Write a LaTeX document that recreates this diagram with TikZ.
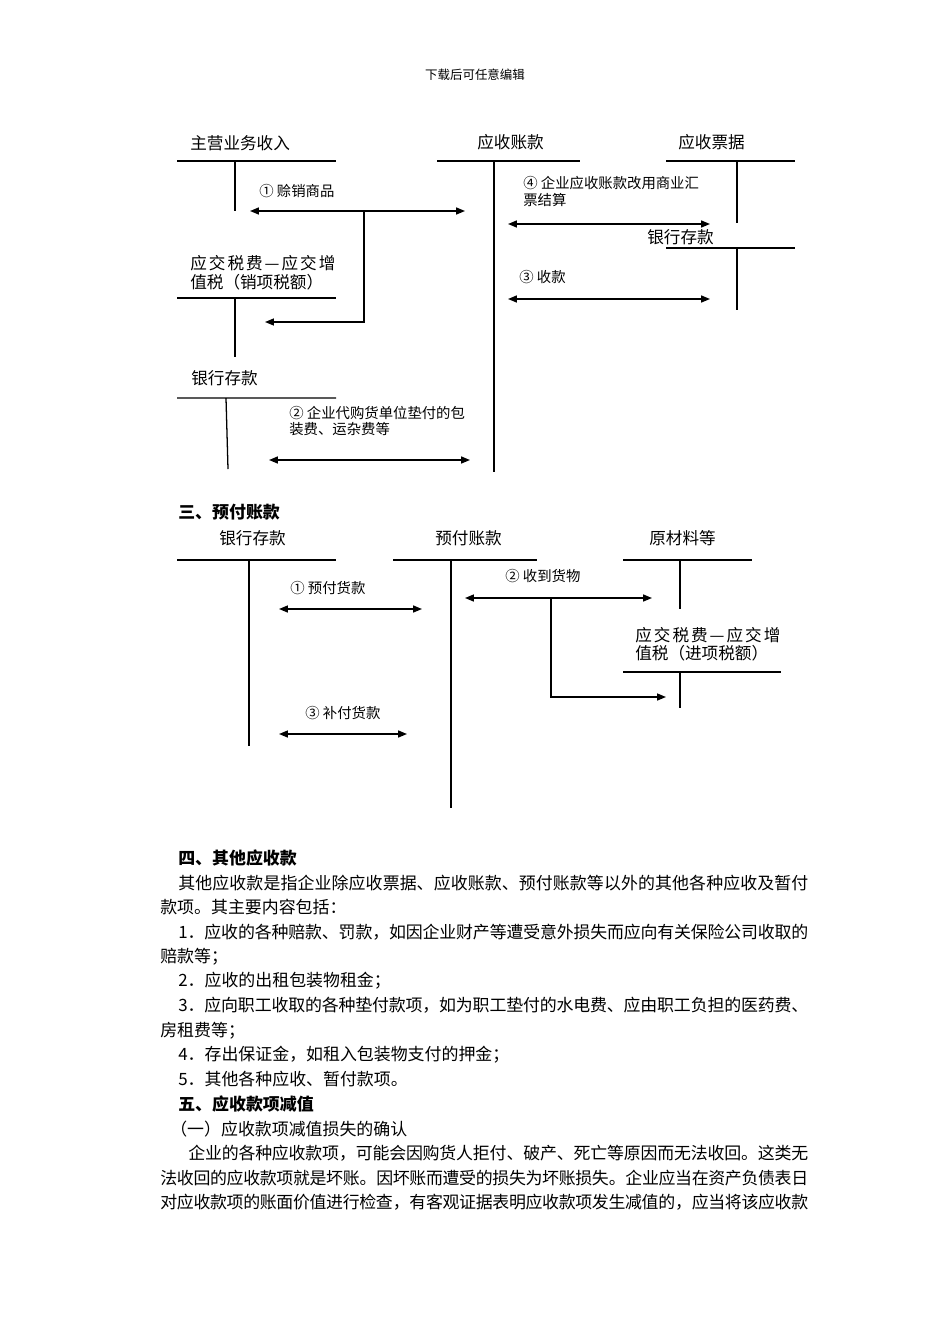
\documentclass[tikz,border=0pt]{standalone}
\usepackage{fontspec}
\setmainfont{Noto Sans CJK SC}
\usetikzlibrary{arrows.meta}
\XeTeXlinebreaklocale "zh"
\XeTeXlinebreakskip=0pt plus 2pt minus 0.5pt
\newlength\pxu
\setlength\pxu{0.6263pt}
\newcommand\acctfont{\fontsize{10.4pt}{11.6pt}\selectfont}
\newcommand\memofont{\fontsize{9pt}{10.4pt}\selectfont}
\newcommand\bodyfont{\fontsize{10.6pt}{14pt}\selectfont}
\newcommand\tsp{\hspace{1.25pt}}
\begin{document}
\begin{tikzpicture}[x=\pxu, y=-\pxu]

\tikzset{
  acct/.style={anchor=west, inner sep=0pt, align=left, font=\acctfont},
  memo/.style={anchor=west, inner sep=0pt, align=left, font=\memofont},
  tline/.style={line width=0.8pt},
  flow/.style={line width=0.9pt,
    {Triangle[length=5.6pt,width=4.4pt]}-{Triangle[length=5.6pt,width=4.4pt]}},
  branch/.style={line width=0.8pt, -{Triangle[length=5.6pt,width=4.4pt]}},
  body/.style={anchor=west, inner sep=0pt, font=\bodyfont},
  justline/.style={body, text width=#1, align=justify,
    execute at begin node={\parfillskip=0pt\relax}},
  head/.style={body, font=\bodyfont\bfseries}
}

\fill[white] (0,0) rectangle (950,1344);
\useasboundingbox (0,0) rectangle (950,1344);

\node[inner sep=0pt, font=\fontsize{7.8pt}{9pt}\selectfont] (top) at (475,75) {下载后可任意编辑};

% receivables
\node[acct] (sales) at (190,143) {主营业务收入};
\node[acct] (ar) at (477,142) {应收账款};
\node[acct] (nr) at (678,142) {应收票据};
\node[acct] (vatout) at (190,272.5) {应\tsp 交\tsp 税\tsp 费\tsp —\tsp 应\tsp 交\tsp 增\\值税（销项税额）};
\node[acct] (bankl) at (191,378) {银行存款};
\node[acct] (bankr) at (647,237) {银行存款};

\draw[tline] (177,161) -- (336,161) (235,161) -- (235,211);
\draw[tline] (437,161) -- (580,161) (494,161) -- (494,472);
\draw[tline] (666,161) -- (795,161) (737,161) -- (737,223);
\draw[tline] (177,298) -- (336,298) (235,298) -- (235,357);
\draw[tline] (177,398) -- (336,398) (226,398) -- (228,469);
\draw[tline] (666,248) -- (795,248) (737,248) -- (737,310);

\node[memo] (m1) at (259,191) {① 赊销商品};
\node[memo] (m4) at (523,191.5) {④ 企业应收账款改用商业汇\\票结算};
\node[memo] (m3) at (519,277) {③ 收款};
\node[memo] (m2) at (289,421) {② 企业代购货单位垫付的包\\装费、运杂费等};

\coordinate (a1l) at (250,211);
\coordinate (a1r) at (465,211);
\coordinate (a1s) at (364,211);
\coordinate (a1t) at (265,322);
\coordinate (a4l) at (508,224);
\coordinate (a4r) at (710,224);
\coordinate (a3l) at (508,299);
\coordinate (a3r) at (710,299);
\coordinate (a2l) at (269,460);
\coordinate (a2r) at (470,460);

\draw[flow] (a1l) -- (a1r);
\draw[branch] (a1s) |- (a1t);
\draw[flow] (a4l) -- (a4r);
\draw[flow] (a3l) -- (a3r);
\draw[flow] (a2l) -- (a2r);

% prepayments
\node[head] (sec3) at (178,512) {三、预付账款};
\node[acct] (bankp) at (219,538) {银行存款};
\node[acct] (pre) at (435,538) {预付账款};
\node[acct] (raw) at (649,538) {原材料等};
\node[acct] (vatin) at (635,644) {应\tsp 交\tsp 税\tsp 费\tsp —\tsp 应\tsp 交\tsp 增\\值税（进项税额）};

\draw[tline] (177,560) -- (336,560) (249,560) -- (249,746);
\draw[tline] (393,560) -- (537,560) (451,560) -- (451,808);
\draw[tline] (623,560) -- (752,560) (680,560) -- (680,609);
\draw[tline] (623,672) -- (781,672) (680,672) -- (680,708);

\node[memo] (q1) at (290,588) {① 预付货款};
\node[memo] (q2) at (505,576) {② 收到货物};
\node[memo] (q3) at (305,713) {③ 补付货款};

\coordinate (b1l) at (279,609);
\coordinate (b1r) at (422,609);
\coordinate (b2l) at (465,598);
\coordinate (b2r) at (652,598);
\coordinate (b2s) at (551,598);
\coordinate (b2t) at (666,697);
\coordinate (b3l) at (279,734);
\coordinate (b3r) at (407,734);

\draw[flow] (b1l) -- (b1r);
\draw[flow] (b2l) -- (b2r);
\draw[branch] (b2s) |- (b2t);
\draw[flow] (b3l) -- (b3r);

% text
\node[head] (sec4) at (178,858) {四、其他应收款};
\node[justline=394.6pt] (p1) at (178,882.6) {其他应收款是指企业除应收票据、应收账款、预付账款等以外的其他各种应收及暂付};
\node[body] (p2) at (160,907.2) {款项。其主要内容包括：};
\node[justline=394.6pt] (i1a) at (178,931.8) {1．应收的各种赔款、罚款，如因企业财产等遭受意外损失而应向有关保险公司收取的};
\node[body] (i1b) at (160,956.4) {赔款等；};
\node[body] (i2) at (178,981) {2．应收的出租包装物租金；};
\node[justline=394.6pt] (i3a) at (178,1005.6) {3．应向职工收取的各种垫付款项，如为职工垫付的水电费、应由职工负担的医药费、};
\node[body] (i3b) at (160,1030.2) {房租费等；};
\node[body] (i4) at (178,1054.8) {4．存出保证金，如租入包装物支付的押金；};
\node[body] (i5) at (178,1079.4) {5．其他各种应收、暂付款项。};
\node[head] (sec5) at (178,1104) {五、应收款项减值};
\node[body] (sub1) at (170,1128.6) {（一）应收款项减值损失的确认};
\node[justline=388.3pt] (p3a) at (188,1153.2) {企业的各种应收款项，可能会因购货人拒付、破产、死亡等原因而无法收回。这类无};
\node[justline=405.8pt] (p3b) at (160,1177.8) {法收回的应收款项就是坏账。因坏账而遭受的损失为坏账损失。企业应当在资产负债表日};
\node[justline=405.8pt] (p3c) at (160,1202.4) {对应收款项的账面价值进行检查，有客观证据表明应收款项发生减值的，应当将该应收款};

\end{tikzpicture}
\end{document}
